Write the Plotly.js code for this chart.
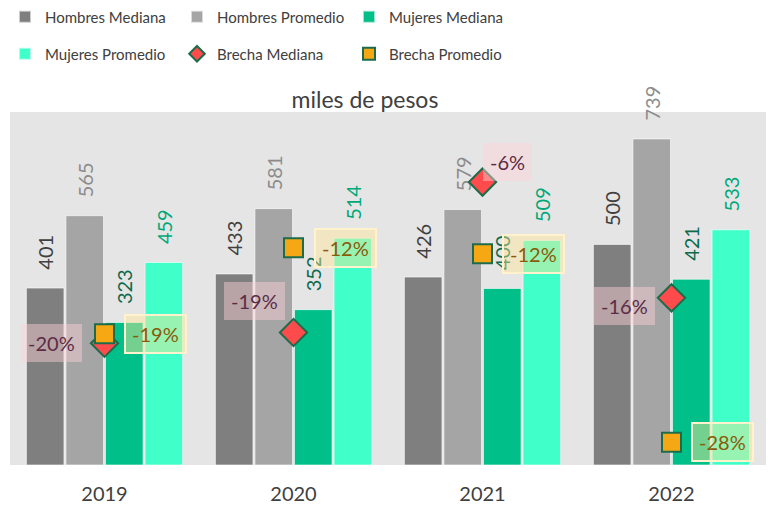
<!DOCTYPE html>
<html>
<head>
<meta charset="utf-8">
<script src="https://cdn.plot.ly/plotly-3.0.1.min.js"></script>
<style>
  html, body { margin: 0; padding: 0; background: #fff; }
  #chart { width: 768px; height: 506px; }
</style>
</head>
<body>
<div id="chart"></div>
<script>
const years = ['2019', '2020', '2021', '2022'];
const hombresMediana = [401, 433, 426, 500];
const hombresPromedio = [565, 581, 579, 739];
const mujeresMediana = [323, 352, 400, 421];
const mujeresPromedio = [459, 514, 509, 533];
const brechaMediana = [-0.196, -0.187, -0.061, -0.158];
const brechaPromedio = [-0.188, -0.116, -0.121, -0.279];

// where the % boxes sit, in px from their marker
const medianaShift = [[-53, 0], [-39, 31], [25, 20], [-47, -8]];
const promedioShift = [[51, 0], [52, 0], [51, 0], [51, 0]];

const font = 'Lato, "Open Sans", sans-serif';
const pad = '\u00a0\u00a0\u00a0';

function barTrace(name, y, color, textColor, legend) {
  return {
    type: 'bar', name: name, x: years, y: y, legend: legend,
    marker: { color: color, line: { color: 'rgba(255,255,255,0.6)', width: 1 } },
    texttemplate: pad + '%{y}', textposition: 'outside', textangle: -90,
    textfont: { family: font, size: 20, color: textColor },
    constraintext: 'none', cliponaxis: false, hoverinfo: 'skip'
  };
}

function gapTrace(name, y, symbol, legend) {
  return {
    type: 'scatter', mode: 'markers', name: name, x: years, y: y,
    yaxis: 'y2', legend: legend, cliponaxis: false, hoverinfo: 'skip',
    marker: {
      symbol: symbol, size: symbol === 'diamond' ? 21 : 19,
      color: symbol === 'diamond' ? '#ff4b4b' : '#f5a814',
      line: { color: '#1d6b4b', width: 2 }
    }
  };
}

const data = [
  barTrace('Hombres Mediana', hombresMediana, '#7f7f7f', '#404040', 'legend'),
  barTrace('Hombres Promedio', hombresPromedio, '#a5a5a5', '#8c8c8c', 'legend'),
  barTrace('Mujeres Mediana', mujeresMediana, '#00bf89', '#0b6b4d', 'legend'),
  barTrace('Mujeres Promedio', mujeresPromedio, '#40ffc8', '#00a878', 'legend2'),
  gapTrace('Brecha Mediana', brechaMediana, 'diamond', 'legend2'),
  gapTrace('Brecha Promedio', brechaPromedio, 'square', 'legend2')
];

const pct = v => Math.round(v * 100) + '%';
const annotations = [];
years.forEach((yr, i) => {
  // on a category axis annotations take the category index
  annotations.push({
    x: i, y: brechaMediana[i], yref: 'y2', text: pct(brechaMediana[i]),
    showarrow: false, xshift: medianaShift[i][0], yshift: medianaShift[i][1],
    font: { family: font, size: 20, color: '#5c2c45' },
    bgcolor: 'rgba(255,208,216,0.45)', borderpad: 7, borderwidth: 0
  });
  annotations.push({
    x: i, y: brechaPromedio[i], yref: 'y2', text: pct(brechaPromedio[i]),
    showarrow: false, xshift: promedioShift[i][0], yshift: promedioShift[i][1],
    font: { family: font, size: 20, color: '#8a5a0a' },
    bgcolor: 'rgba(255,228,150,0.45)', bordercolor: '#fff2cc', borderwidth: 2, borderpad: 6
  });
});

const legendBase = {
  orientation: 'h', xref: 'container', yref: 'container',
  x: 5 / 768, xanchor: 'left', yanchor: 'middle',
  entrywidth: 127, entrywidthmode: 'pixels', itemclick: false,
  itemsizing: 'constant',
  font: { family: font, size: 15, color: '#404040' }, bgcolor: 'rgba(0,0,0,0)'
};

const layout = {
  width: 768, height: 506,
  margin: { l: 10, r: 2, t: 112, b: 41 },
  paper_bgcolor: '#ffffff', plot_bgcolor: '#e5e5e5',
  barmode: 'group', bargap: 0.163, bargroupgap: 0.05,
  font: { family: font, color: '#404040' },
  title: {
    text: 'miles de pesos', font: { family: font, size: 23, color: '#404040' },
    x: 365 / 768, xanchor: 'center', y: 1 - 100 / 506, yanchor: 'middle'
  },
  xaxis: {
    type: 'category', showgrid: false, zeroline: false, showline: false,
    ticks: '', ticklabelstandoff: 15, range: [-0.5, 3.5],
    tickfont: { family: font, size: 20, color: '#404040' }
  },
  yaxis: { range: [0, 800], visible: false, showgrid: false, zeroline: false },
  yaxis2: {
    overlaying: 'y', side: 'right', range: [-0.298, -0.0023],
    visible: false, showgrid: false, zeroline: false
  },
  legend: Object.assign({}, legendBase, { y: 1 - 17 / 506 }),
  legend2: Object.assign({}, legendBase, { y: 1 - 54 / 506 }),
  annotations: annotations,
  showlegend: true
};

Plotly.newPlot('chart', data, layout, { displayModeBar: false, staticPlot: true });
</script>
</body>
</html>
